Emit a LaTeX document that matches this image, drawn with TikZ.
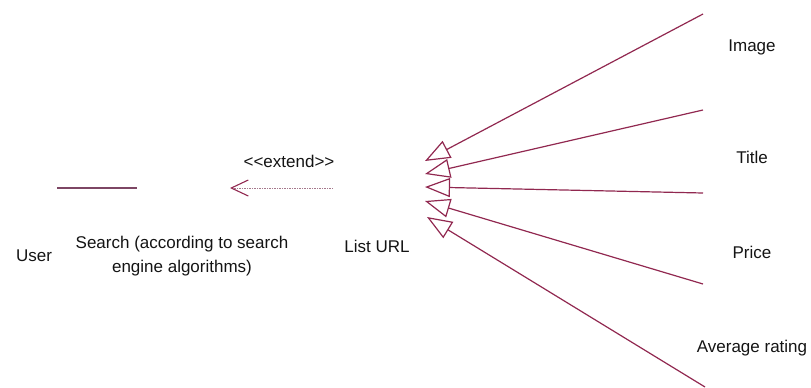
\documentclass[tikz,border=0pt]{standalone}
\usepackage{fontspec}
\setmainfont{Liberation Sans}
\usetikzlibrary{arrows.meta}
\definecolor{linec}{RGB}{145,40,80}
\definecolor{assoc}{RGB}{125,70,100}
\definecolor{dashc}{RGB}{165,120,140}
\definecolor{txt}{RGB}{20,20,20}
\tikzset{
  lbl/.style={inner sep=0pt, text=txt, font=\fontsize{17}{24}\selectfont, align=center},
  gen/.style={draw=linec, line width=1.2pt, -{Triangle[open, length=25pt, width=19pt, line width=1.2pt]}},
  ext/.style={draw=dashc, line width=0.9pt, dash pattern=on 1.5pt off 1pt, -{Straight Barb[length=17pt, width=16pt, color=linec, line width=1.1pt]}},
  assocline/.style={draw=assoc, line width=1.5pt}
}
\begin{document}
\begin{tikzpicture}[x=1pt,y=-1pt]
\useasboundingbox (0,0) rectangle (811,388);
% labels
\node[lbl] (user) at (34,256) {User};
\node[lbl] (search) at (182,256) {Search (according to search\\engine algorithms)};
\node[lbl] (listurl) at (377,246) {List URL};
\node[lbl] (extend) at (289,161) {\mbox{<}\mbox{<}extend\mbox{>}\mbox{>}};
\node[lbl] (image) at (752,47) {Image};
\node[lbl] (title) at (752,157) {Title};
\node[lbl] (price) at (752,252) {Price};
\node[lbl] (rating) at (752,348) {Average rating};
% connector ends
\coordinate (ua) at (57,188);
\coordinate (ub) at (137,188);
\coordinate (ea) at (333,188);
\coordinate (eb) at (230,188);
\coordinate (i1) at (703,14);
\coordinate (t1) at (425,161);
\coordinate (i2) at (703,110);
\coordinate (t2) at (425,174);
\coordinate (i3) at (703,193);
\coordinate (t3) at (425,187);
\coordinate (i4) at (703,284);
\coordinate (t4) at (425,201);
\coordinate (i5) at (705,387);
\coordinate (t5) at (427,217);
% connectors
\draw[assocline] (ua) -- (ub);
\draw[ext] (ea) -- (eb);
\draw[gen] (i1) -- (t1);
\draw[gen] (i2) -- (t2);
\draw[gen] (i3) -- (t3);
\draw[gen] (i4) -- (t4);
\draw[gen] (i5) -- (t5);
\end{tikzpicture}
\end{document}
